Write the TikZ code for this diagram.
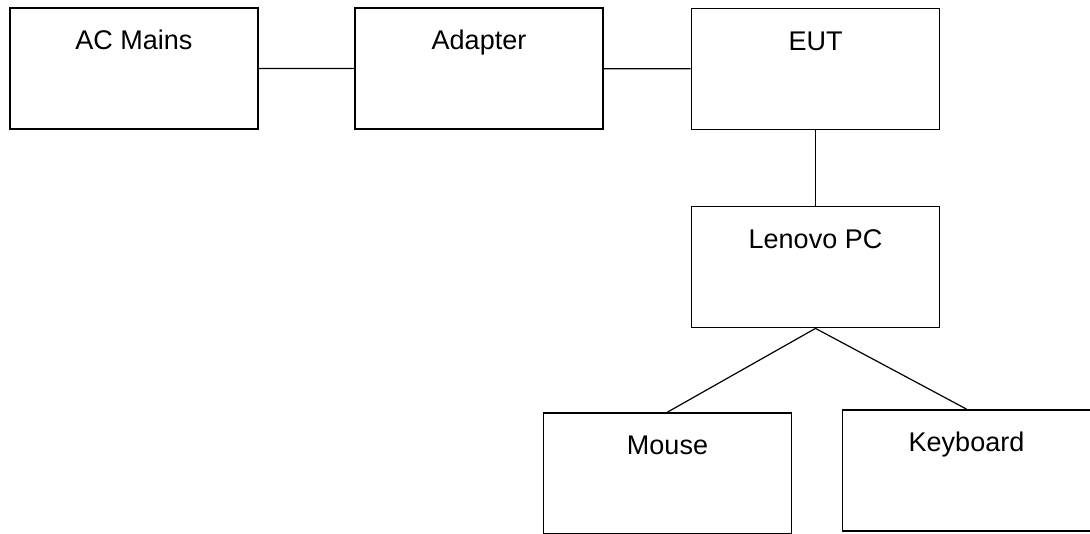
\documentclass[tikz,border=0pt]{standalone}
\usepackage{fontspec}
\setmainfont{Liberation Sans}
\begin{document}
\begin{tikzpicture}[
	x=1pt, y=-1pt,
	unit/.style={ rectangle, draw, line width=1.8pt, fill=white, inner sep=0pt, minimum width=248pt, text height=42pt, text depth=79pt, font=\fontsize{27}{32}\selectfont },
	wire/.style={ line width=1.2pt }
]
\useasboundingbox[fill=white] (0,0) rectangle (1090,534);

\node at (134,68.5) (ac) [unit] {AC Mains};
\node at (479,68.5) (adapter) [unit] {Adapter};
\node at (815.5,69) (eut) [unit] {EUT};
\draw[wire] (ac) to (adapter) to (eut);

\node at (815.5,267) (pc) [unit] {Lenovo PC};
\draw[wire] (eut) to (pc);

\node at (667.5,473.5) (mouse) [unit] {Mouse};
\node at (966.5,470.5) (kbd) [unit] {Keyboard};
\draw[wire] (mouse.north) to (pc.south) to (kbd.north);

\end{tikzpicture}
\end{document}
